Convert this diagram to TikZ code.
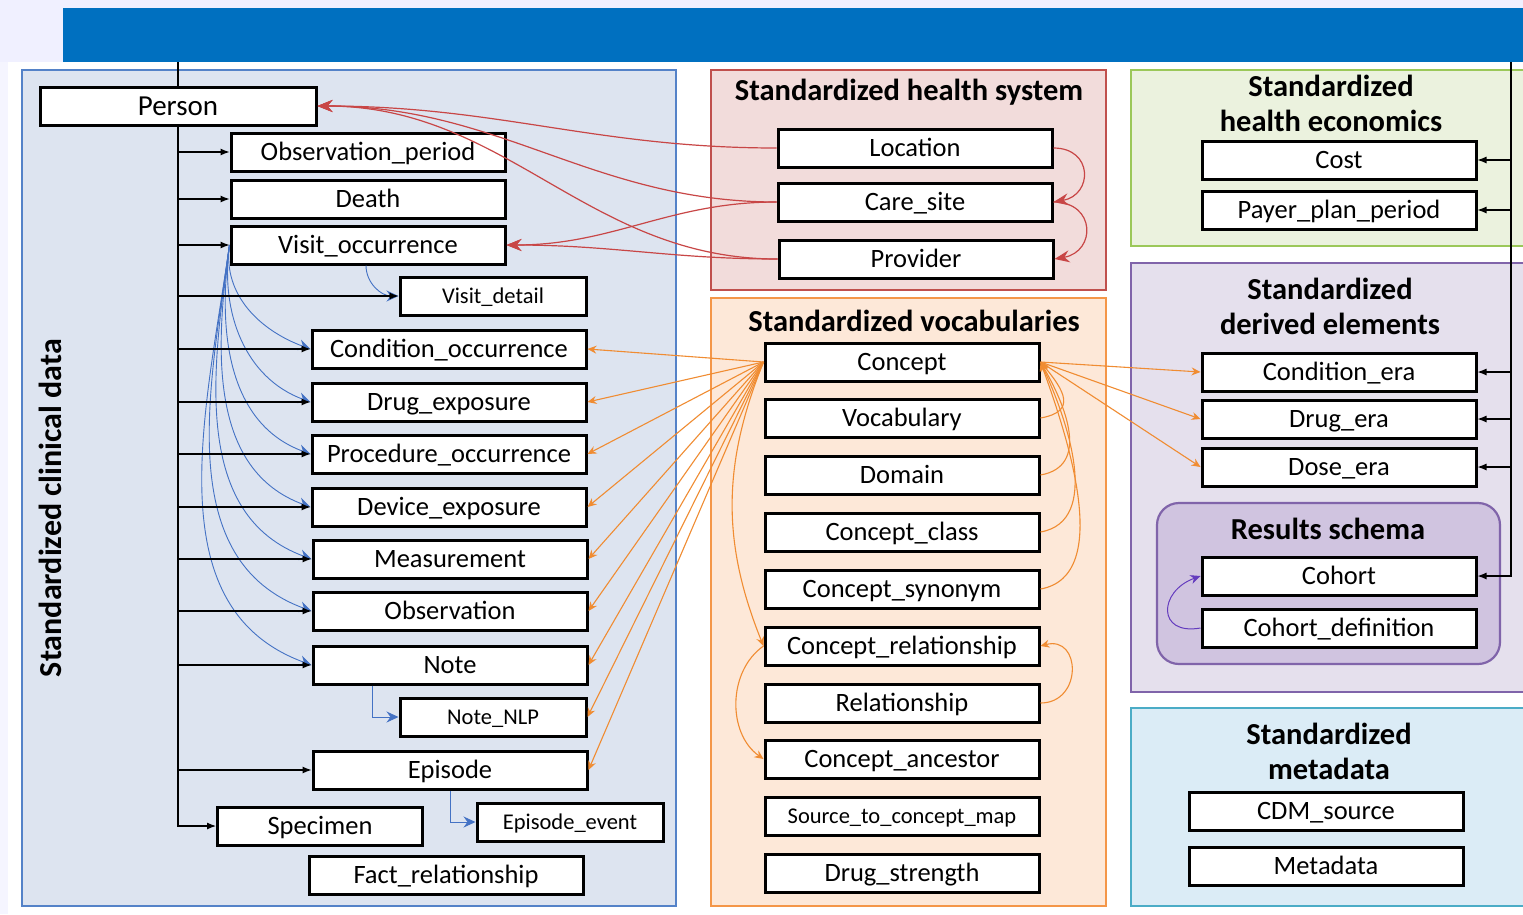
\documentclass[tikz,border=0pt]{standalone}
\usepackage{fontspec}
\setmainfont{Carlito}
\usetikzlibrary{arrows.meta}

\definecolor{bannerblue}{RGB}{0,112,192}
\definecolor{clinfill}{RGB}{221,228,240}
\definecolor{clindraw}{RGB}{84,130,200}
\definecolor{hsfill}{RGB}{242,220,219}
\definecolor{hsdraw}{RGB}{192,80,77}
\definecolor{vocfill}{RGB}{253,232,216}
\definecolor{vocdraw}{RGB}{244,150,72}
\definecolor{econfill}{RGB}{235,242,222}
\definecolor{econdraw}{RGB}{155,200,89}
\definecolor{derfill}{RGB}{229,224,237}
\definecolor{derdraw}{RGB}{128,100,170}
\definecolor{resfill}{RGB}{208,196,224}
\definecolor{metafill}{RGB}{219,236,246}
\definecolor{metadraw}{RGB}{75,172,198}
\definecolor{linkblue}{RGB}{68,114,196}
\definecolor{linkred}{RGB}{200,70,70}
\definecolor{linkorange}{RGB}{240,140,50}
\definecolor{linkpurple}{RGB}{100,60,190}

\begin{document}
\begin{tikzpicture}[x=1pt, y=-1pt,
  tbl/.style={draw, line width=3pt, fill=white, minimum width=274pt, minimum height=38pt, inner sep=0pt, text height=17pt, text depth=0pt, font=\fontsize{26.5}{29}\selectfont},
  smalltbl/.style={tbl, text height=14.5pt, font=\fontsize{22.5}{25}\selectfont},
  ttl/.style={align=center, font=\fontsize{30.5}{35}\selectfont\bfseries},
  panel/.style={line width=2.2pt},
  blk/.style={-{Latex[length=9pt,width=7pt]}, line width=1.1pt},
  hslink/.style={-{Stealth[length=15pt,width=12pt,inset=5pt]}, draw=linkred, line width=1.2pt},
  vislink/.style={-{Stealth[length=12pt,width=11pt,inset=4pt]}, draw=linkblue, line width=0.9pt},
  voclink/.style={-{Stealth[length=9pt,width=8pt,inset=3pt]}, draw=linkorange, line width=1.1pt},
]
\useasboundingbox (0,0) rectangle (1523,914);
\fill[white] (0,0) rectangle (1523,914);
\fill[blue!6] (0,0) rectangle (1523,62);
\fill[blue!4] (0,62) rectangle (8,914);
\fill[bannerblue] (63,8) rectangle (1523,62);

% panels
\draw[panel, draw=clindraw, fill=clinfill] (22,70) rectangle (676,906);
\draw[panel, draw=hsdraw, fill=hsfill] (711,70) rectangle (1106,290);
\draw[panel, draw=vocdraw, fill=vocfill] (711,298) rectangle (1106,906);
\draw[panel, draw=econdraw, fill=econfill] (1131,70) rectangle (1530,246);
\draw[panel, draw=derdraw, fill=derfill] (1131,263) rectangle (1530,692);
\draw[panel, draw=derdraw, fill=resfill, rounded corners=22pt] (1157,503) rectangle (1500,664);
\draw[panel, draw=metadraw, fill=metafill] (1131,708) rectangle (1530,906);

% panel titles
\node[ttl, rotate=90, font=\fontsize{32}{36}\selectfont\bfseries] (tclin) at (50,508) {Standardized clinical data};
\node[ttl] (ths) at (909,92) {Standardized health system};
\node[ttl] (tvoc) at (914,321) {Standardized vocabularies};
\node[ttl] (tecon) at (1331,103) {Standardized\\health economics};
\node[ttl] (tder) at (1330,306) {Standardized\\derived elements};
\node[ttl] (tres) at (1328,529) {Results schema};
\node[ttl] (tmeta) at (1329,751) {Standardized\\metadata};

% clinical data tables
\node[tbl, minimum width=276pt, text height=18.5pt, font=\fontsize{29}{32}\selectfont] (person) at (178,106) {Person};
\node[tbl] (obsper) at (368,152) {Observation\_period};
\node[tbl] (death) at (368,199) {Death};
\node[tbl] (visit) at (368,245) {Visit\_occurrence};
\node[smalltbl, minimum width=186pt] (vdetail) at (493,296) {Visit\_detail};
\node[tbl] (cond) at (449,349) {Condition\_occurrence};
\node[tbl] (drug) at (449,402) {Drug\_exposure};
\node[tbl] (proc) at (449,454) {Procedure\_occurrence};
\node[tbl] (device) at (449,507) {Device\_exposure};
\node[tbl] (meas) at (450,559) {Measurement};
\node[tbl] (obs) at (450,611) {Observation};
\node[tbl] (note) at (450,665) {Note};
\node[smalltbl, minimum width=186pt] (nlp) at (493,717) {Note\_NLP};
\node[tbl] (episode) at (450,770) {Episode};
\node[tbl, minimum width=205pt] (specimen) at (320,826) {Specimen};
\node[smalltbl, minimum width=186pt] (epevent) at (570,822) {Episode\_event};
\node[tbl] (fact) at (446,875) {Fact\_relationship};

% health system tables
\node[tbl] (location) at (915,148) {Location};
\node[tbl] (caresite) at (915,202) {Care\_site};
\node[tbl] (provider) at (916,259) {Provider};

% vocabulary tables
\node[tbl] (concept) at (902,362) {Concept};
\node[tbl] (vocab) at (902,418) {Vocabulary};
\node[tbl] (domain) at (902,475) {Domain};
\node[tbl] (cclass) at (902,532) {Concept\_class};
\node[tbl] (csyn) at (902,589) {Concept\_synonym};
\node[tbl] (crel) at (902,646) {Concept\_relationship};
\node[tbl] (rel) at (902,703) {Relationship};
\node[tbl] (canc) at (902,759) {Concept\_ancestor};
\node[smalltbl] (stcm) at (902,816) {Source\_to\_concept\_map};
\node[tbl] (dstrength) at (902,873) {Drug\_strength};

% economics, derived, results, metadata
\node[tbl] (cost) at (1339,160) {Cost};
\node[tbl] (payer) at (1339,210) {Payer\_plan\_period};
\node[tbl] (condera) at (1339,372) {Condition\_era};
\node[tbl] (drugera) at (1339,419) {Drug\_era};
\node[tbl] (doseera) at (1339,467) {Dose\_era};
\node[tbl] (cohort) at (1339,576) {Cohort};
\node[tbl] (cohortdef) at (1339,628) {Cohort\_definition};
\node[tbl] (cdmsrc) at (1326,811) {CDM\_source};
\node[tbl] (meta) at (1326,866) {Metadata};

% visit links
\foreach \t in {cond,drug,proc,device,meas,obs,note}
  \draw[vislink] (visit.west) to[out=262,in=160] (\t.west);
\draw[vislink] ([xshift=-2pt]visit.south) to[out=270,in=180] (vdetail.west);
\draw[vislink] ([xshift=-78pt]note.south) |- (nlp.west);
\draw[vislink] (episode.south) |- (epevent.west);

% person trunk
\coordinate (ltop) at (178,62);
\draw[line width=1.1pt] (ltop) -- (person.north);
\draw[blk] (person.south) |- (specimen.west);
\foreach \t in {obsper,death,visit,vdetail,cond,drug,proc,device,meas,obs,note,episode}
  \draw[blk] (person.south |- \t.west) -- (\t.west);

% right trunk
\coordinate (rtop) at (1511,62);
\draw[blk] (rtop) |- (cohort.east);
\foreach \t in {cost,payer,condera,drugera,doseera}
  \draw[blk] (rtop |- \t.east) -- (\t.east);

% health system links
\draw[hslink] (location.west) to[out=180,in=0] (person.east);
\draw[hslink] (caresite.west) to[out=180,in=0] (person.east);
\draw[hslink] (provider.west) to[out=180,in=0] (person.east);
\draw[hslink] (caresite.west) to[out=180,in=0] (visit.east);
\draw[hslink] (provider.west) to[out=180,in=0] (visit.east);
\draw[hslink] (location.east) to[out=0,in=10,looseness=1.9] (caresite.east);
\draw[hslink] (caresite.east) to[out=0,in=10,looseness=1.9] (provider.east);

% vocabulary links
\foreach \t in {cond,drug,proc,device,meas,obs,note,nlp,episode}
  \draw[voclink] (concept.west) -- (\t.east);
\draw[voclink] (concept.west) to[bend right=22] (crel.west);
\draw[voclink] (crel.west) to[bend right=55] (canc.west);
\draw[voclink] (vocab.east) to[out=10,in=-50,looseness=1.7] (concept.east);
\draw[voclink] (domain.east) to[out=10,in=-60,looseness=1.15] (concept.east);
\draw[voclink] (cclass.east) to[out=10,in=-65,looseness=0.95] (concept.east);
\draw[voclink] (csyn.east) to[out=10,in=-70,looseness=0.85] (concept.east);
\draw[voclink] (rel.east) to[out=0,in=15,looseness=1.9] (crel.east);
\foreach \t in {condera,drugera,doseera}
  \draw[voclink] (concept.east) -- (\t.west);

% cohort link
\draw[-{Stealth[length=10pt,width=9pt,inset=3pt]}, draw=linkpurple, line width=1pt]
  (cohortdef.west) to[out=190,in=200,looseness=2.2] (cohort.west);
\end{tikzpicture}
\end{document}
